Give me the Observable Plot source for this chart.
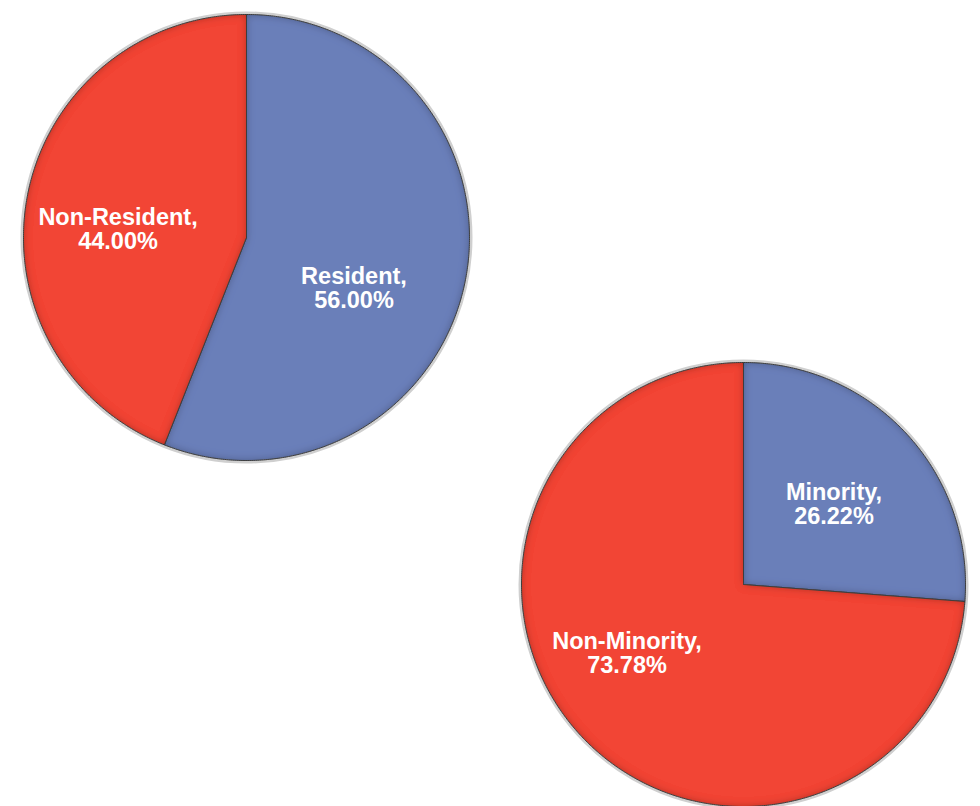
<!DOCTYPE html>
<html>
<head>
<meta charset="utf-8">
<script src="https://cdn.jsdelivr.net/npm/d3@7"></script>
<script src="https://cdn.jsdelivr.net/npm/@observablehq/plot@0.6"></script>
<style>
  html, body { margin: 0; padding: 0; background: #fff; overflow: hidden; }
  #wrap { position: relative; width: 980px; height: 806px; overflow: hidden; }
  .pie { position: absolute; }
</style>
</head>
<body>
<div id="wrap"></div>
<script>
// ---- data ----
const pie1Categories = ["Resident", "Non-Resident"];
const pie1Values = [56.00, 44.00];
const pie2Categories = ["Minority", "Non-Minority"];
const pie2Values = [26.22, 73.78];

// ---- style ----
const sliceColors = ["#6a7fb9", "#f24535"];
const font = "'Liberation Sans', Arial, Helvetica, sans-serif";
// manual label nudges (px), like hand-placed data labels
const pie1LabelNudge = [[-13, 28], [-8, 15]];
const pie2LabelNudge = [[-4, 7], [-22, -19]];

function buildSlices(cats, vals) {
  const total = d3.sum(vals);
  let cum = 0;
  return cats.map((c, i) => {
    const a0 = cum / total * 2 * Math.PI;
    cum += vals[i];
    const a1 = cum / total * 2 * Math.PI;
    const pts = [{x: 0, y: 0}];
    const n = Math.max(2, Math.ceil((a1 - a0) / (Math.PI / 360)));
    for (let k = 0; k <= n; k++) {
      const a = a0 + (a1 - a0) * k / n;
      pts.push({x: Math.sin(a), y: Math.cos(a)});
    }
    pts.push({x: 0, y: 0});
    const mid = (a0 + a1) / 2;
    return {cat: c, value: vals[i], color: sliceColors[i], pts, mid};
  });
}

function makePie(cats, vals, r, cx, cy, labelR, nudge, id) {
  const pad = 8;
  const size = 2 * r + 2 * pad;
  const slices = buildSlices(cats, vals);
  const marks = [
    Plot.dot([{x: 0, y: 0}], {x: "x", y: "y", r: r + 1.5, fill: "none", stroke: "#cfcfcf", strokeWidth: 3})
  ];
  slices.forEach(s => marks.push(Plot.line(s.pts, {
    x: "x", y: "y", fill: s.color, stroke: "#4a4a4a", strokeWidth: 1, curve: "linear"
  })));
  slices.forEach((s, i) => marks.push(Plot.text([{
    x: labelR * Math.sin(s.mid),
    y: labelR * Math.cos(s.mid),
    text: `${s.cat},\n${s.value.toFixed(2)}%`
  }], {
    x: "x", y: "y", text: "text", fill: "white", fontSize: 23.5, fontWeight: "bold",
    fontFamily: font, lineHeight: 1.03, dx: nudge[i][0], dy: nudge[i][1]
  })));
  const svg = Plot.plot({
    width: size, height: size,
    margin: 0,
    x: {domain: [-1, 1], range: [pad, pad + 2 * r], axis: null},
    y: {domain: [-1, 1], range: [pad + 2 * r, pad], axis: null},
    style: {background: "transparent", overflow: "visible"},
    marks
  });
  // bevel / inner shadow filter (decoration only)
  const s = d3.select(svg);
  const defs = s.insert("defs", ":first-child");
  const f = defs.append("filter").attr("id", "bevel" + id)
    .attr("x", "-10%").attr("y", "-10%").attr("width", "120%").attr("height", "120%");
  f.append("feFlood").attr("flood-color", "#000").attr("flood-opacity", 0.6).attr("result", "flood");
  f.append("feComposite").attr("in", "flood").attr("in2", "SourceAlpha").attr("operator", "out").attr("result", "outside");
  f.append("feGaussianBlur").attr("in", "outside").attr("stdDeviation", 4).attr("result", "blur");
  f.append("feComposite").attr("in", "blur").attr("in2", "SourceAlpha").attr("operator", "in").attr("result", "inner");
  const m = f.append("feMerge");
  m.append("feMergeNode").attr("in", "SourceGraphic");
  m.append("feMergeNode").attr("in", "inner");
  s.selectAll("g[aria-label=line] path").attr("filter", `url(#bevel${id})`);
  svg.style.left = (cx - r - pad) + "px";
  svg.style.top = (cy - r - pad) + "px";
  svg.classList.add("pie");
  return svg;
}

const wrap = document.getElementById("wrap");
wrap.appendChild(makePie(pie1Categories, pie1Values, 223, 246, 237, 0.55, pie1LabelNudge, 1));
wrap.appendChild(makePie(pie2Categories, pie2Values, 222, 743, 584, 0.58, pie2LabelNudge, 2));
</script>
</body>
</html>
